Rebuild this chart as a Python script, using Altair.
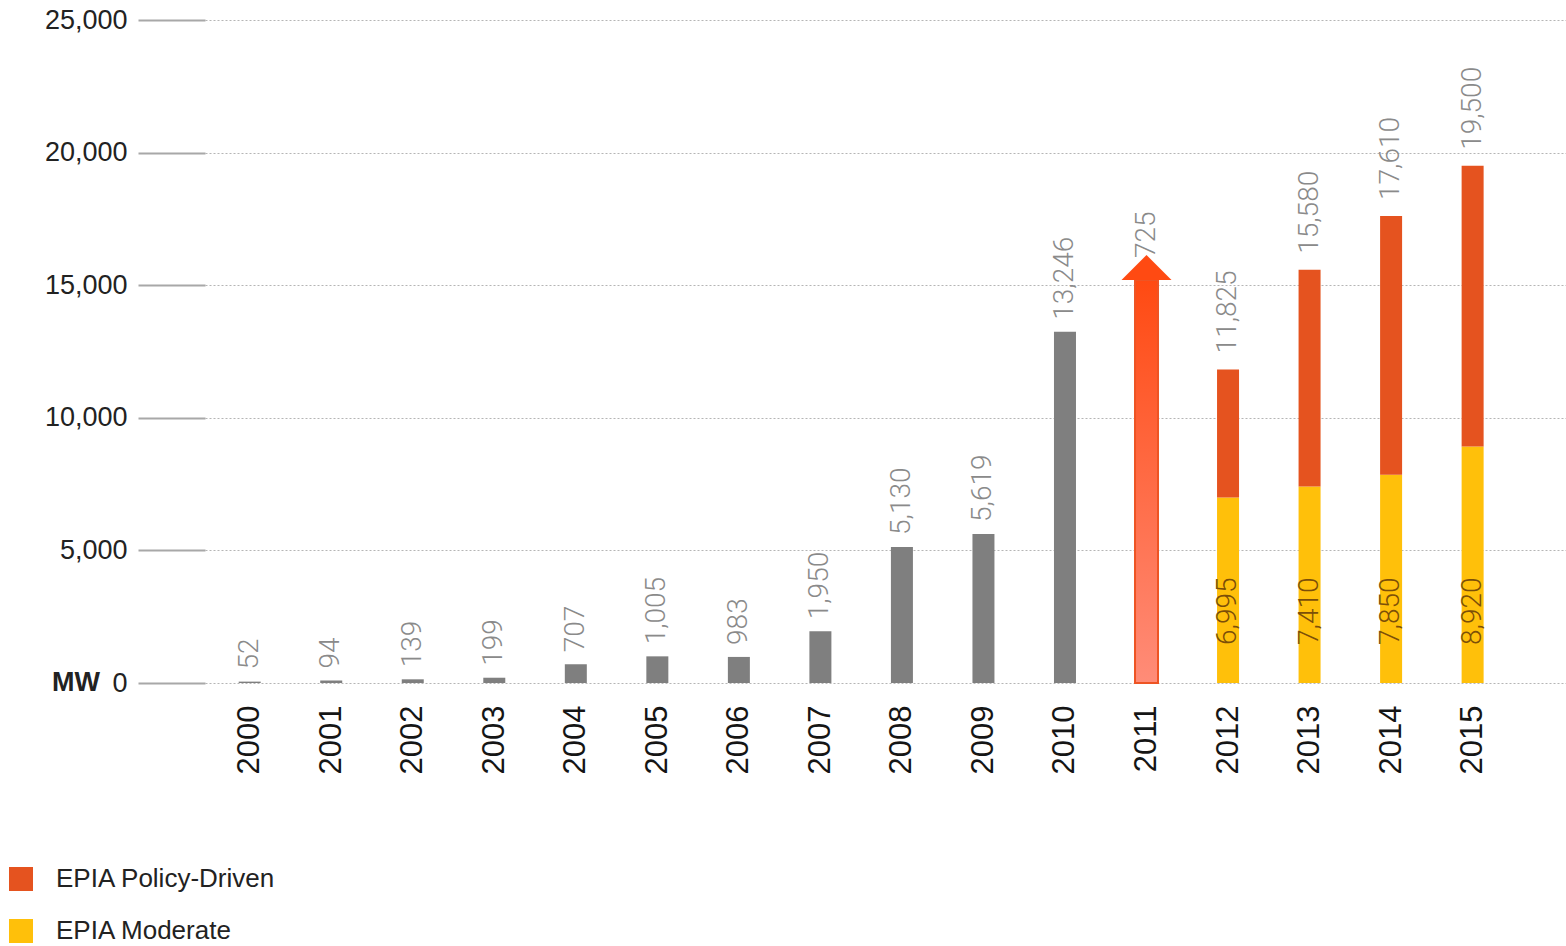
import altair as alt
import pandas as pd

# ---- data ----
hist_years = [2000, 2001, 2002, 2003, 2004, 2005, 2006, 2007, 2008, 2009, 2010]
hist_values = [52, 94, 139, 199, 707, 1005, 983, 1950, 5130, 5619, 13246]

fc_years = [2012, 2013, 2014, 2015]
moderate = [6995, 7410, 7850, 8920]
policy_total = [11825, 15580, 17610, 19500]

arrow_year = [2011]
arrow_base = [15200]
arrow_tip = [16140]
arrow_label = ["725"]

year_ticks = list(range(2000, 2016))
y_ticks = [0, 5000, 10000, 15000, 20000, 25000]

series_names = ["EPIA Policy-Driven", "EPIA Moderate"]
series_colors = ["#E5531F", "#FFC00A"]

# ---- tables ----
hist_df = pd.DataFrame({"year": hist_years, "value": hist_values})
hist_df["label"] = [f"{v:,}" for v in hist_values]

fc_rows = []
for yr, m, t in zip(fc_years, moderate, policy_total):
    fc_rows.append({"year": yr, "series": "EPIA Moderate", "start": 0, "end": m})
    fc_rows.append({"year": yr, "series": "EPIA Policy-Driven", "start": m, "end": t})
fc_df = pd.DataFrame(fc_rows)

tot_df = pd.DataFrame({"year": fc_years, "value": policy_total,
                       "label": [f"{v:,}" for v in policy_total]})
mod_df = pd.DataFrame({"year": fc_years, "value": moderate,
                       "label": [f"{v:,}" for v in moderate]})
arrow_df = pd.DataFrame({"year": arrow_year, "base": arrow_base,
                         "tip": arrow_tip, "label": arrow_label})
zero_df = pd.DataFrame({"v": [0]})

LABEL_FONT = "Liberation Sans"
VAL_FONT = "Roboto"

xscale = alt.Scale(domain=[1999.513, 2016.084], nice=False, zero=False)
yscale = alt.Scale(domain=[0, 25000], nice=False)

x_axis = alt.Axis(values=year_ticks, labelExpr="format(datum.value, 'd')",
                  labelAngle=-90, ticks=False,
                  domain=False, grid=False, labelPadding=22, labelFontSize=31,
                  labelColor="#151515", labelFont=LABEL_FONT, title=None)
y_axis = alt.Axis(values=y_ticks,
                  labelExpr="format(datum.value, ',')",
                  tickSize=67, tickColor="#a8a8a8", tickWidth=2,
                  grid=True, gridColor="#b5b5b5", gridDash=[2, 2], gridWidth=1,
                  domain=False, labelPadding=11, labelFontSize=27,
                  labelColor="#222222", labelFont=LABEL_FONT, title=None)


def X(field="year:Q"):
    return alt.X(field, scale=xscale, axis=x_axis)


def Y(field):
    return alt.Y(field, scale=yscale, axis=y_axis)


hist_bars = alt.Chart(hist_df).mark_bar(width=22, color="#7f7f7f").encode(
    x=X(), y=Y("value:Q"),
)

fc_bars = alt.Chart(fc_df).mark_bar(width=22).encode(
    x=X(),
    y=Y("start:Q"),
    y2="end:Q",
    color=alt.Color("series:N",
                    scale=alt.Scale(domain=series_names, range=series_colors),
                    legend=alt.Legend(orient="none", legendX=-197, legendY=846,
                                      title=None, symbolType="square",
                                      symbolSize=576, symbolStrokeWidth=0,
                                      symbolOpacity=1, labelLimit=0,
                                      labelFontSize=26, labelFont=LABEL_FONT,
                                      labelColor="#222222", labelOffset=22,
                                      rowPadding=26, padding=0)),
)

val_text_style = dict(angle=270, align="left", baseline="middle",
                      font=VAL_FONT, fontWeight=300, fontSize=28)

hist_labels = alt.Chart(hist_df).mark_text(dx=12, color="#8a8a8a", **val_text_style).encode(
    x=X(), y=Y("value:Q"), text="label:N")

tot_labels = alt.Chart(tot_df).mark_text(dx=16, color="#8a8a8a", **val_text_style).encode(
    x=X(), y=Y("value:Q"), text="label:N")

mod_labels = alt.Chart(mod_df).mark_text(dx=38, color="#7c4f08", **val_text_style).encode(
    x=X(), y=alt.datum(0, scale=yscale, axis=y_axis), text="label:N")

arrow_shaft = alt.Chart(arrow_df).mark_bar(
    width=23, stroke="#EE5424", strokeWidth=2,
    fill=alt.Gradient(gradient="linear",
                      stops=[alt.GradientStop(color="#FF4A12", offset=0),
                             alt.GradientStop(color="#FF8C78", offset=1)],
                      x1=0, x2=0, y1=0, y2=1),
).encode(x=X(), y=Y("base:Q"), y2=alt.datum(0))

arrow_head = alt.Chart(arrow_df).mark_point(
    shape="M-1,1L0,0L1,1Z", size=2500, filled=True, fill="#FF4A12",
    opacity=1, strokeWidth=0,
).encode(x=X(), y=Y("tip:Q"))

arrow_text = alt.Chart(arrow_df).mark_text(dx=-3, color="#8a8a8a", **val_text_style).encode(
    x=X(), y=Y("tip:Q"), text="label:N")

mw_text = alt.Chart(zero_df).mark_text(
    text="MW", align="right", baseline="middle", fontWeight="bold",
    fontSize=27, font=LABEL_FONT, color="#222222",
).encode(x=alt.value(-105), y=Y("v:Q"))

chart = alt.layer(
    hist_bars, fc_bars, hist_labels, tot_labels, mod_labels,
    arrow_text, arrow_shaft, arrow_head, mw_text,
).properties(
    width=1361, height=663,
    background="white",
    autosize=alt.AutoSizeParams(type="none"),
    padding={"left": 205, "top": 20, "right": 0, "bottom": 263},
).configure_view(strokeWidth=0, stroke="transparent").configure_axis(domain=False)

chart.save("out.html", embed_options={"renderer": "svg", "actions": False})
